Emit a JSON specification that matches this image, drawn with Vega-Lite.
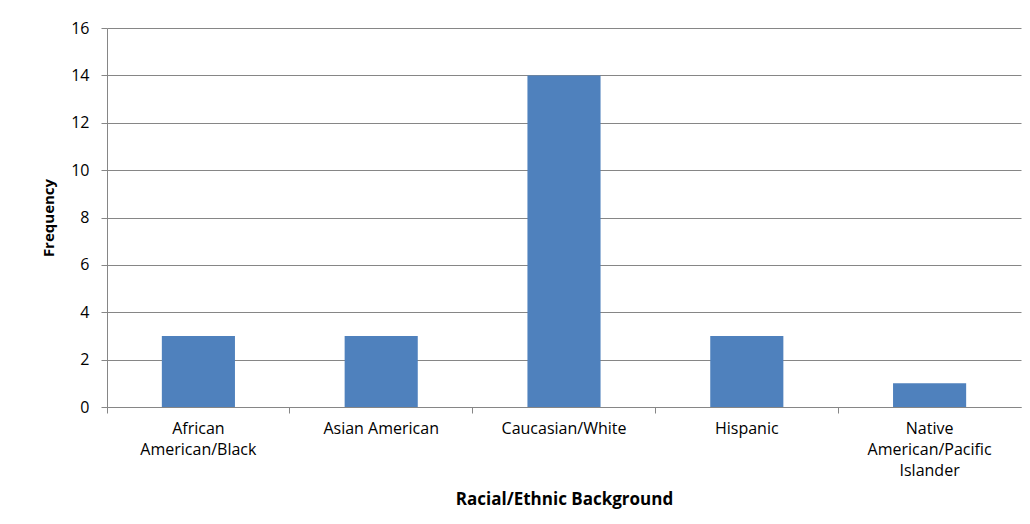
{
  "$schema": "https://vega.github.io/schema/vega-lite/v6.json",
  "width": 914,
  "height": 379,
  "autosize": {"type": "none"},
  "padding": {"left": 107, "top": 28, "right": 9, "bottom": 117},
  "background": "white",
  "data": {"values": [
    {"group": "African American/Black", "count": 3},
    {"group": "Asian American", "count": 3},
    {"group": "Caucasian/White", "count": 14},
    {"group": "Hispanic", "count": 3},
    {"group": "Native American/Pacific Islander", "count": 1}
  ]},
  "mark": {"type": "bar", "color": "#4F81BD", "width": {"band": 0.4}},
  "encoding": {
    "x": {
      "field": "group", "type": "nominal", "sort": null,
      "scale": {"paddingInner": 0, "paddingOuter": 0},
      "axis": {
        "title": "Racial/Ethnic Background",
        "titleFontSize": 17,
        "labelFontSize": 16,
        "labelAngle": 0,
        "bandPosition": 0,
        "labelExpr": "datum.value == 'African American/Black' ? ['African', 'American/Black'] : datum.value == 'Native American/Pacific Islander' ? ['Native', 'American/Pacific', 'Islander'] : datum.value",
        "labelLineHeight": 21,
        "labelPadding": 7,
        "tickSize": 6,
        "tickColor": "#868686",
        "domainColor": "#868686",
        "titlePadding": 13
      }
    },
    "y": {
      "field": "count", "type": "quantitative",
      "scale": {"domain": [0, 16]},
      "axis": {
        "title": "Frequency",
        "titleFontSize": 15,
        "labelFontSize": 16,
        "values": [0, 2, 4, 6, 8, 10, 12, 14, 16],
        "tickSize": 6,
        "tickColor": "#868686",
        "domainColor": "#868686",
        "gridColor": "#868686",
        "labelPadding": 12,
        "titlePadding": 14
      }
    }
  },
  "config": {
    "view": {"stroke": null},
    "axis": {
      "labelFont": "Open Sans",
      "labelColor": "#000000",
      "titleFont": "Open Sans",
      "titleFontWeight": "bold",
      "titleColor": "#000000",
      "domainWidth": 1,
      "gridWidth": 1
    }
  }
}
